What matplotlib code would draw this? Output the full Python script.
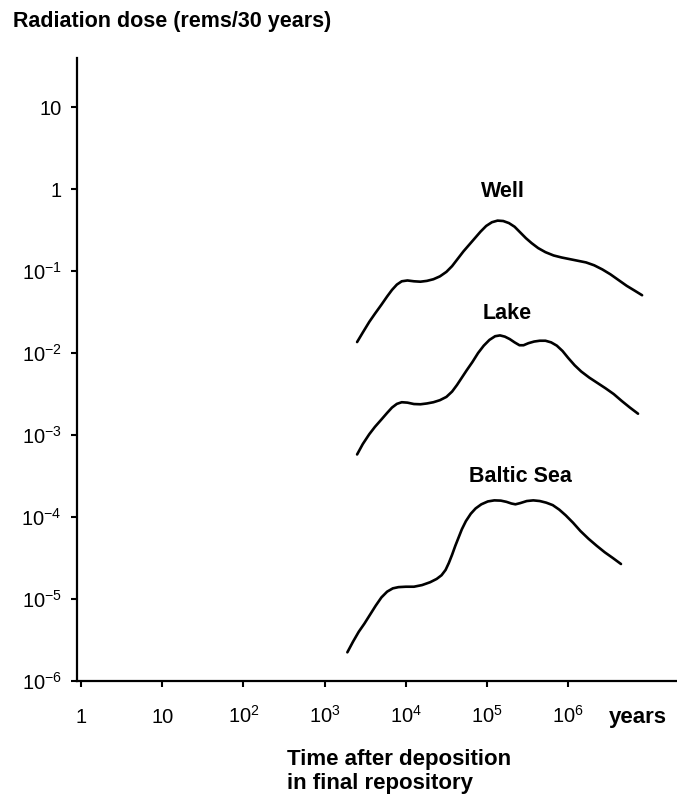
import numpy as np
import matplotlib.pyplot as plt

plt.rcParams['font.family'] = ['Liberation Sans', 'DejaVu Sans']
plt.rcParams['mathtext.default'] = 'regular'

# curves: log10(years), log10(rems/30 years)
well_t = [3.40, 3.47, 3.55, 3.62, 3.70, 3.77, 3.83, 3.89, 3.95, 4.02, 4.10, 4.18, 4.26, 4.34, 4.42,
          4.50, 4.57, 4.64, 4.71, 4.78, 4.85, 4.92, 4.99, 5.06, 5.13, 5.20, 5.27, 5.34, 5.41, 5.48,
          5.55, 5.63, 5.72, 5.82, 5.92, 6.02, 6.12, 6.22, 6.32, 6.42, 6.52, 6.62, 6.72, 6.82, 6.91]
well_v = [-1.866, -1.75, -1.62, -1.52, -1.41, -1.31, -1.23, -1.165, -1.125, -1.115, -1.125, -1.13,
          -1.12, -1.10, -1.065, -1.01, -0.94, -0.85, -0.76, -0.68, -0.60, -0.52, -0.45, -0.405, -0.385,
          -0.39, -0.415, -0.46, -0.53, -0.60, -0.66, -0.72, -0.77, -0.81, -0.835, -0.855, -0.875,
          -0.895, -0.93, -0.98, -1.04, -1.11, -1.18, -1.24, -1.295]

lake_t = [3.40, 3.47, 3.55, 3.62, 3.70, 3.77, 3.83, 3.89, 3.95, 4.02, 4.10, 4.18, 4.26, 4.34, 4.42,
          4.50, 4.57, 4.63, 4.69, 4.75, 4.82, 4.89, 4.96, 5.03, 5.10, 5.16, 5.22, 5.28, 5.34, 5.40,
          5.45, 5.51, 5.58, 5.65, 5.72, 5.79, 5.86, 5.93, 6.00, 6.08, 6.16, 6.26, 6.36, 6.46, 6.56,
          6.66, 6.76, 6.86]
lake_v = [-3.237, -3.11, -2.99, -2.90, -2.81, -2.73, -2.665, -2.62, -2.60, -2.605, -2.622, -2.625,
          -2.615, -2.60, -2.575, -2.535, -2.47, -2.39, -2.30, -2.21, -2.11, -2.00, -1.91, -1.84, -1.795,
          -1.785, -1.80, -1.83, -1.87, -1.905, -1.905, -1.88, -1.86, -1.85, -1.85, -1.87, -1.91, -1.975,
          -2.06, -2.15, -2.225, -2.30, -2.365, -2.43, -2.50, -2.585, -2.665, -2.74]

baltic_t = [3.28, 3.35, 3.42, 3.49, 3.56, 3.63, 3.70, 3.77, 3.84, 3.91, 4.00, 4.10, 4.20, 4.30, 4.38,
            4.44, 4.49, 4.53, 4.57, 4.61, 4.65, 4.69, 4.74, 4.80, 4.86, 4.93, 5.01, 5.09, 5.17, 5.24,
            5.30, 5.35, 5.41, 5.49, 5.57, 5.65, 5.73, 5.81, 5.89, 5.97, 6.06, 6.15, 6.25, 6.35, 6.45,
            6.55, 6.65]
baltic_v = [-5.65, -5.52, -5.40, -5.30, -5.19, -5.08, -4.98, -4.91, -4.87, -4.855, -4.85, -4.85, -4.83,
            -4.795, -4.755, -4.71, -4.645, -4.56, -4.46, -4.35, -4.25, -4.15, -4.05, -3.96, -3.895,
            -3.845, -3.81, -3.797, -3.80, -3.815, -3.835, -3.845, -3.83, -3.805, -3.797, -3.805, -3.825,
            -3.855, -3.91, -3.98, -4.07, -4.17, -4.265, -4.35, -4.43, -4.50, -4.573]

x_ticks = [0, 1, 2, 3, 4, 5, 6]
x_labels = ['1', '10', '10$^2$', '10$^3$', '10$^4$', '10$^5$', '10$^6$']
y_ticks = [1, 0, -1, -2, -3, -4, -5, -6]
y_labels = ['10', '1', '10$^{-1}$', '10$^{-2}$', '10$^{-3}$', '10$^{-4}$', '10$^{-5}$', '10$^{-6}$']

fig = plt.figure(figsize=(6.77, 7.98), dpi=100)
ax = fig.add_axes([0.1137, 0.1466, 0.8863, 0.7807])

for t, v in [(well_t, well_v), (lake_t, lake_v), (baltic_t, baltic_v)]:
    ax.plot(10 ** np.array(t), 10 ** np.array(v), color='black', lw=1.9,
            solid_capstyle='round', solid_joinstyle='round')

ax.set_xscale('log')
ax.set_yscale('log')
ax.set_xlim(10 ** -0.05, 10 ** 7.34)
ax.set_ylim(10 ** -6.0, 10 ** 1.598)

ax.set_xticks([10.0 ** k for k in x_ticks])
ax.set_xticklabels(x_labels)
ax.set_yticks([10.0 ** k for k in y_ticks])
ax.set_yticklabels(y_labels)
ax.minorticks_off()
ax.tick_params(axis='both', direction='out', length=4, width=1.5, labelsize=14.5, color='black')
ax.tick_params(axis='x', pad=26)
ax.tick_params(axis='y', pad=7)
# keep the digits of all x labels on one baseline
for lab in ax.get_xticklabels():
    lab.set_verticalalignment('baseline')

for s in ['top', 'right']:
    ax.spines[s].set_visible(False)
for s in ['left', 'bottom']:
    ax.spines[s].set_linewidth(1.6)

# curve labels
ax.text(10 ** 5.19, 10 ** -0.03, 'Well', fontsize=15.5, fontweight='bold', ha='center', va='center')
ax.text(10 ** 5.25, 10 ** -1.52, 'Lake', fontsize=15.5, fontweight='bold', ha='center', va='center')
ax.text(10 ** 5.41, 10 ** -3.51, 'Baltic Sea', fontsize=15.5, fontweight='bold', ha='center', va='center')

fig.text(13 / 677, 1 - 21 / 798, 'Radiation dose (rems/30 years)', fontsize=15.5, fontweight='bold',
         ha='left', va='center')
fig.text(609 / 677, 1 - 718 / 798, 'years', fontsize=16, fontweight='bold', ha='left', va='center')
fig.text(287 / 677, 1 - 760 / 798, 'Time after deposition', fontsize=16, fontweight='bold',
         ha='left', va='center')
fig.text(287 / 677, 1 - 783 / 798, 'in final repository', fontsize=16, fontweight='bold',
         ha='left', va='center')

plt.savefig('out.png', dpi=100)
